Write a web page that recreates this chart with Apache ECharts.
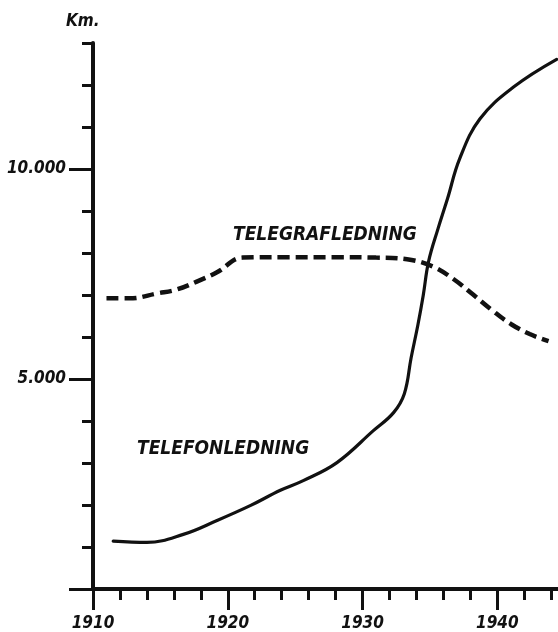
<!DOCTYPE html>
<html>
<head>
<meta charset="utf-8">
<script src="https://cdn.jsdelivr.net/npm/echarts@6/dist/echarts.min.js"></script>
<style>
  html, body { margin: 0; padding: 0; background: #fff; }
  #chart { width: 558px; height: 632px; }
</style>
</head>
<body>
<div id="chart"></div>
<script>
// Telephone line length (km) by year
const telefonYears = [1911.5, 1914.0, 1916.7, 1919.2, 1921.7, 1923.9, 1925.6, 1928.1, 1930.8, 1932.3, 1933.1, 1933.6, 1934.1, 1934.5, 1934.9, 1935.6, 1936.3, 1937.2, 1938.7, 1941.2, 1944.4];
const telefonKm    = [1140,   1110,   1300,   1630,   1990,   2350,   2580,   3010,   3770,   4200,   4650,   5500,   6280,   6990,   7800,   8580,   9290,   10240,  11190,  11950,  12610];

// Telegraph line length (km) by year
const telegrafYears = [1911.0, 1912.7, 1914.8, 1916.2, 1917.7, 1919.2, 1921.1, 1924.0, 1928.0, 1931.0, 1933.3, 1935.2, 1936.7, 1938.2, 1939.6, 1941.0, 1942.4, 1943.8];
const telegrafKm    = [6920,   6920,   7040,   7130,   7320,   7540,   7890,   7900,   7900,   7890,   7850,   7680,   7390,   7010,   6640,   6310,   6070,   5900];

// Axis ticks and labels
const yearMinorTicks = [1910, 1912, 1914, 1916, 1918, 1920, 1922, 1924, 1926, 1928, 1930, 1932, 1934, 1936, 1938, 1940, 1942, 1944];
const yearMajorTicks = [1910, 1920, 1930, 1940];
const kmMinorTicks = [1000, 2000, 3000, 4000, 5000, 6000, 7000, 8000, 9000, 10000, 11000, 12000, 13000];
const kmMajorTicks = [0, 5000, 10000];
const kmLabelValues = [5000, 10000];

const INK = '#111';
const FONT = 'DejaVu Sans Condensed';

function pairs(xs, ys) { return xs.map((x, i) => [x, ys[i]]); }
function km(v) { return String(v).replace(/\B(?=(\d{3})+(?!\d))/g, '.'); }

const chart = echarts.init(document.getElementById('chart'), null, { renderer: 'canvas' });

const axisText = { color: INK, fontFamily: FONT, fontWeight: 'bold', fontStyle: 'italic', fontSize: 17 };

chart.setOption({
  animation: false,
  backgroundColor: '#fff',
  grid: { left: 93, right: 0, top: 43, bottom: 41, containLabel: false },
  xAxis: [
    {
      type: 'value', position: 'bottom', min: 1910, max: 1944.5,
      axisLine: { show: true, lineStyle: { color: INK, width: 4 } },
      axisTick: { show: true, inside: false, length: 11, customValues: yearMinorTicks, lineStyle: { color: INK, width: 3 } },
      axisLabel: { show: false },
      splitLine: { show: false }
    },
    {
      type: 'value', position: 'bottom', min: 1910, max: 1944.5,
      axisLine: { show: false },
      axisTick: { show: true, inside: false, length: 21, customValues: yearMajorTicks, lineStyle: { color: INK, width: 3 } },
      axisLabel: Object.assign({ show: true, margin: 26, customValues: yearMajorTicks, formatter: v => String(v) }, axisText),
      splitLine: { show: false }
    }
  ],
  yAxis: [
    {
      type: 'value', position: 'left', min: 0, max: 13000,
      axisLine: { show: true, lineStyle: { color: INK, width: 4 } },
      axisTick: { show: true, inside: false, length: 11, customValues: kmMinorTicks, lineStyle: { color: INK, width: 3 } },
      axisLabel: { show: false },
      splitLine: { show: false }
    },
    {
      type: 'value', position: 'left', min: 0, max: 13000,
      axisLine: { show: false },
      axisTick: { show: true, inside: false, length: 24, customValues: kmMajorTicks, lineStyle: { color: INK, width: 3 } },
      axisLabel: Object.assign({ show: true, margin: 27, customValues: kmLabelValues, formatter: v => km(v) }, axisText),
      splitLine: { show: false }
    }
  ],
  series: [
    {
      name: 'TELEFONLEDNING', type: 'line', xAxisIndex: 0, yAxisIndex: 0,
      data: pairs(telefonYears, telefonKm),
      smooth: 0.4, showSymbol: false, symbol: 'none',
      lineStyle: { color: INK, width: 3.2, type: 'solid', cap: 'round', join: 'round' }
    },
    {
      name: 'TELEGRAFLEDNING', type: 'line', xAxisIndex: 0, yAxisIndex: 0,
      data: pairs(telegrafYears, telegrafKm),
      smooth: 0.4, showSymbol: false, symbol: 'none',
      lineStyle: { color: INK, width: 4.5, type: [12, 6], cap: 'butt' }
    }
  ],
  graphic: [
    { type: 'text', left: 66, top: 13, style: { text: 'Km.', fill: INK, font: 'italic bold 17px "' + FONT + '"' } },
    { type: 'text', left: 233, top: 226, style: { text: 'TELEGRAFLEDNING', fill: INK, font: 'italic bold 19px "' + FONT + '"' } },
    { type: 'text', left: 137, top: 440, style: { text: 'TELEFONLEDNING', fill: INK, font: 'italic bold 19px "' + FONT + '"' } }
  ]
});
</script>
</body>
</html>
